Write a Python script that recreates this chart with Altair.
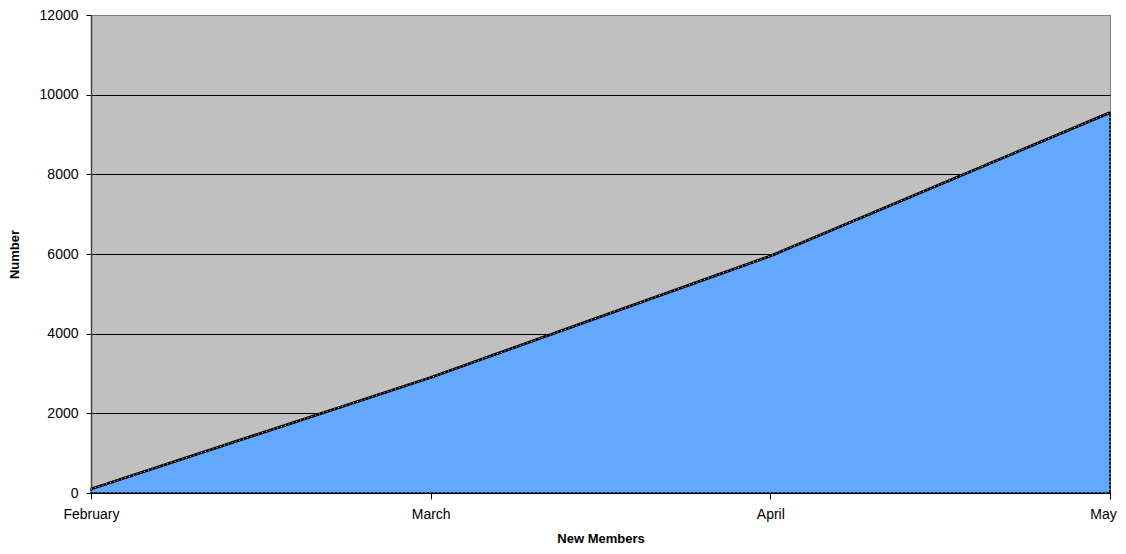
import altair as alt
import pandas as pd

months = ["February", "March", "April", "May"]
members = [100, 2900, 5950, 9550]
y_ticks = [0, 2000, 4000, 6000, 8000, 10000, 12000]

df = pd.DataFrame({"month": months, "value": members})

FONT = "Liberation Sans"

x_enc = alt.X(
    "month:N",
    sort=months,
    scale=alt.Scale(type="point", padding=0),
    axis=alt.Axis(
        title="New Members",
        titleFont=FONT, titleFontSize=13, titleFontWeight="bold", titleColor="#000000",
        titlePadding=11,
        labelFont=FONT, labelFontSize=14, labelColor="#000000", labelAngle=0,
        labelPadding=8, labelAlign="center",
        labelOffset={"condition": {"test": "datum.value === 'May'", "value": -7}, "value": 0},
        domain=False, ticks=True, tickColor="#000000", tickSize=6, grid=False,
    ),
)
y_enc = alt.Y(
    "value:Q",
    scale=alt.Scale(domain=[0, 12000], nice=False),
    axis=alt.Axis(
        title="Number",
        titleFont=FONT, titleFontSize=13, titleFontWeight="bold", titleColor="#000000",
        titlePadding=18,
        labelFont=FONT, labelFontSize=14, labelColor="#000000",
        labelPadding=8, format="d", values=y_ticks,
        domain=True, domainColor="#404040", domainWidth=1.5,
        ticks=True, tickColor="#000000", tickSize=5,
        grid=True,
        gridColor={"condition": {"test": "datum.value >= 12000", "value": "#808080"}, "value": "#000000"},
        gridWidth=1,
    ),
)

area = alt.Chart(df).mark_area(
    color="#62A8FF", opacity=1, stroke="#000000", strokeWidth=1.6, strokeDash=[3, 1]
).encode(x=x_enc, y=y_enc)

line_black = alt.Chart(df).mark_line(color="#000000", strokeWidth=2.8).encode(
    x=alt.X("month:N", sort=months), y="value:Q"
)
line_white = alt.Chart(df).mark_line(
    color="#FFFFFF", strokeWidth=0.9, strokeDash=[1, 3]
).encode(x=alt.X("month:N", sort=months), y="value:Q")

chart = (
    alt.layer(area, line_black, line_white)
    .properties(
        width=1019,
        height=478,
        autosize=alt.AutoSizeParams(type="none"),
        padding={"left": 83, "top": 7, "right": 8, "bottom": 53},
        background="#FFFFFF",
    )
    .configure_view(fill="#C0C0C0", stroke="#808080", strokeWidth=1)
)

chart.save("out.html", embed_options={"renderer": "svg", "actions": False})
